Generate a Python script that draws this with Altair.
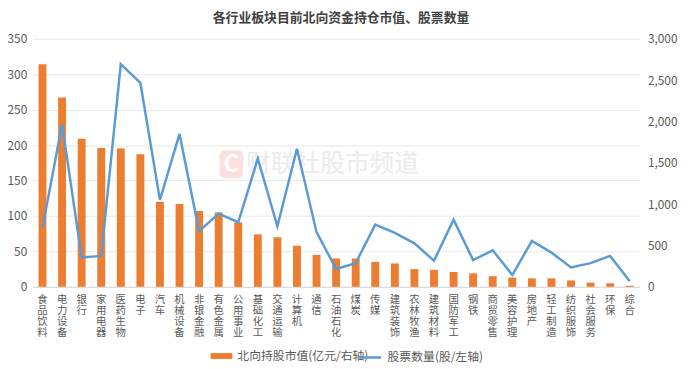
import altair as alt
import pandas as pd

categories = ["食品饮料", "电力设备", "银行", "家用电器", "医药生物", "电子", "汽车", "机械设备",
              "非银金融", "有色金属", "公用事业", "基础化工", "交通运输", "计算机", "通信", "石油石化",
              "煤炭", "传媒", "建筑装饰", "农林牧渔", "建筑材料", "国防军工", "钢铁", "商贸零售",
              "美容护理", "房地产", "轻工制造", "纺织服饰", "社会服务", "环保", "综合"]
market_value = [314, 267, 209, 196, 195, 187, 120, 117, 107, 105, 91, 74, 70, 58, 45, 40,
                40, 35, 33, 25, 24, 21, 19, 15, 13, 12, 12, 9, 6, 5, 1.5]
stock_count = [713, 1968, 355, 374, 2693, 2466, 1052, 1849, 673, 885, 781, 1550, 733, 1670, 661, 215,
               287, 753, 653, 526, 315, 813, 323, 442, 143, 554, 414, 235, 287, 374, 68]
left_ticks = [0, 50, 100, 150, 200, 250, 300, 350]
right_ticks = [0, 500, 1000, 1500, 2000, 2500, 3000]
bar_label = "北向持股市值(亿元/右轴)"
line_label = "股票数量(股/左轴)"
title_text = "各行业板块目前北向资金持仓市值、股票数量"
watermark = "财联社股市频道"

df = pd.DataFrame({"行业": categories, "市值": market_value, "数量": stock_count})
df["s1"] = bar_label
df["s2"] = line_label

ORANGE = "#ED7D31"
BLUE = "#5B9BD5"
GRAY = "#595959"

x_enc = alt.X("行业:N", sort=None,
              scale=alt.Scale(paddingInner=0.6, paddingOuter=0.3),
              axis=alt.Axis(title=None, labelAngle=0, labelExpr="split(datum.label, '')",
                            labelFontSize=10.5, labelLineHeight=11, labelColor=GRAY,
                            labelBaseline="top", labelPadding=8, ticks=False,
                            domainColor="#D9D9D9", grid=False))

base = alt.Chart(df)

bars = base.mark_bar(size=8).encode(
    x=x_enc,
    y=alt.Y("市值:Q", scale=alt.Scale(domain=[0, 350], nice=False),
            axis=alt.Axis(orient="left", values=left_ticks, title=None, grid=True,
                          gridColor="#E8E8E8", domain=False, ticks=False,
                          labelColor=GRAY, labelFontSize=12, labelPadding=6)),
    fill=alt.Fill("s1:N", scale=alt.Scale(domain=[bar_label], range=[ORANGE]),
                  legend=alt.Legend(title=None, orient="none", legendX=180, legendY=310,
                                    padding=0, labelFontSize=12, labelColor=GRAY,
                                    symbolType="M-1,-0.27H1V0.27H-1Z", symbolSize=484,
                                    symbolStrokeWidth=0, labelOffset=5)),
)

line = base.mark_line(strokeWidth=2.5).encode(
    x=x_enc,
    y=alt.Y("数量:Q", scale=alt.Scale(domain=[0, 3000], nice=False),
            axis=alt.Axis(orient="right", values=right_ticks, title=None, grid=False,
                          domain=False, ticks=False, format=",.0f",
                          labelColor=GRAY, labelFontSize=12, labelPadding=8)),
    stroke=alt.Stroke("s2:N", scale=alt.Scale(domain=[line_label], range=[BLUE]),
                      legend=alt.Legend(title=None, orient="none", legendX=329, legendY=310,
                                        padding=0, labelFontSize=12, labelColor=GRAY,
                                        symbolType="stroke", symbolSize=484,
                                        symbolStrokeWidth=2.5, labelOffset=5)),
)

wm_df = pd.DataFrame({"t": [watermark], "c": ["C"]})
wm_box = alt.Chart(wm_df).mark_rect(color="#FBE0E0", cornerRadius=5).encode(
    x=alt.value(189), x2=alt.value(213), y=alt.value(113), y2=alt.value(141))
wm_c = alt.Chart(wm_df).mark_text(color="white", fontSize=24, fontWeight="bold",
                                  align="center", baseline="middle").encode(
    text="c:N", x=alt.value(201), y=alt.value(128))
wm_text = alt.Chart(wm_df).mark_text(color="#EBEBEB", fontSize=25, align="left",
                                     baseline="middle").encode(
    text="t:N", x=alt.value(216), y=alt.value(127))

chart = alt.layer(wm_box, wm_c, wm_text, bars, line).resolve_scale(
    y="independent", fill="independent", stroke="independent"
).properties(
    width=614, height=251,
    title=alt.Title(title_text, fontSize=13, fontWeight="bold", color="#404040",
                    offset=8, anchor="middle", dx=5),
    padding={"left": 25, "top": 29, "right": 45, "bottom": 80},
    autosize=alt.AutoSizeParams(type="none"),
).configure(
    font="Noto Sans CJK SC",
).configure_view(stroke=None)

chart.save("out.html", embed_options={"renderer": "svg", "actions": False})
